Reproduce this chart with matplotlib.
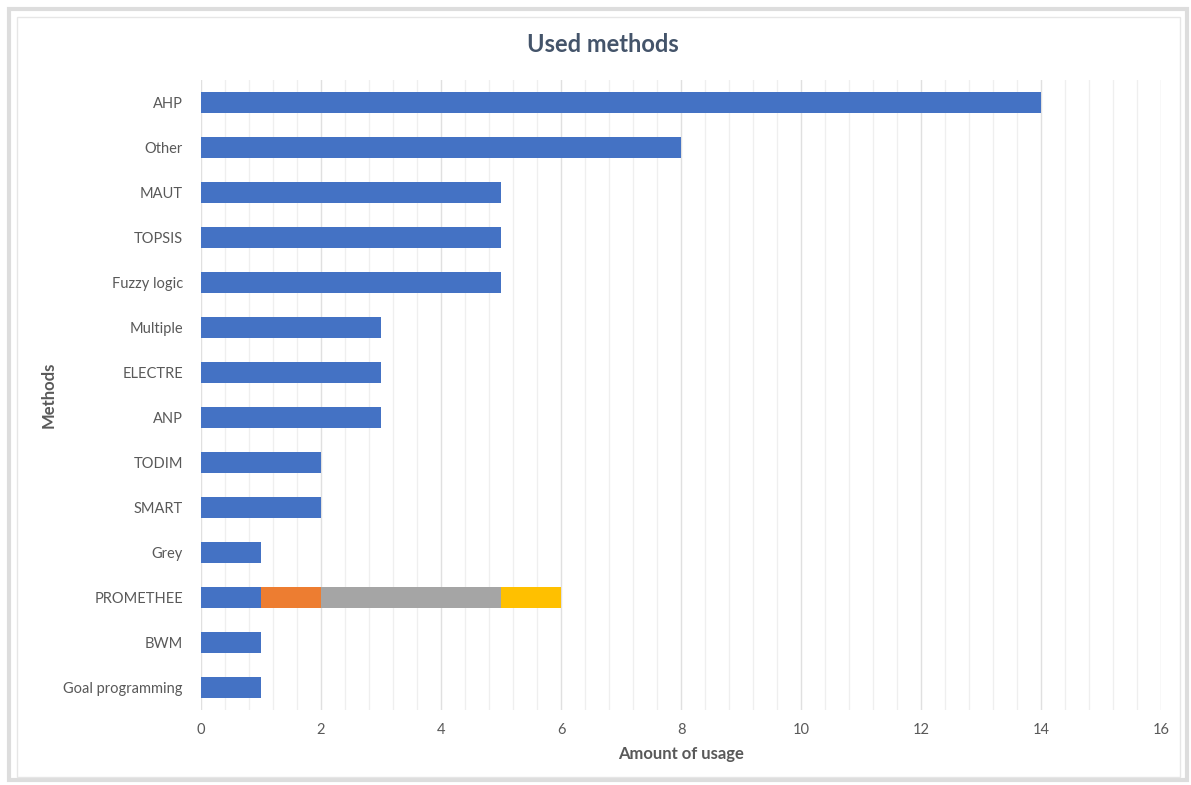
import matplotlib.pyplot as plt
from matplotlib.patches import Rectangle
from matplotlib.ticker import MultipleLocator

methods = ["AHP", "Other", "MAUT", "TOPSIS", "Fuzzy logic", "Multiple", "ELECTRE",
           "ANP", "TODIM", "SMART", "Grey", "PROMETHEE", "BWM", "Goal programming"]
series_1 = [14, 8, 5, 5, 5, 3, 3, 3, 2, 2, 1, 1, 1, 1]
series_2 = [0, 0, 0, 0, 0, 0, 0, 0, 0, 0, 0, 1, 0, 0]
series_3 = [0, 0, 0, 0, 0, 0, 0, 0, 0, 0, 0, 3, 0, 0]
series_4 = [0, 0, 0, 0, 0, 0, 0, 0, 0, 0, 0, 1, 0, 0]
colors = ["#4472C4", "#ED7D31", "#A5A5A5", "#FFC000"]

plt.rcParams["font.family"] = ["Lato", "DejaVu Sans"]
text_col = "#595959"

fig = plt.figure(figsize=(11.91, 7.85), dpi=100)
ax = fig.add_axes([201 / 1191, 1 - 710 / 785, 960 / 1191, 630 / 785])

y = list(range(len(methods)))
left = [0] * len(methods)
for vals, c in zip([series_1, series_2, series_3, series_4], colors):
    ax.barh(y, vals, left=left, height=0.45, color=c, zorder=3)
    left = [a + b for a, b in zip(left, vals)]

ax.set_xlim(0, 16)
ax.set_ylim(len(methods) - 0.5, -0.5)
ax.set_yticks(y)
ax.set_yticklabels(methods)
ax.xaxis.set_major_locator(MultipleLocator(2))
ax.xaxis.set_minor_locator(MultipleLocator(0.4))
ax.grid(axis="x", which="major", color="#E0E0E0", lw=1.0, zorder=0)
ax.grid(axis="x", which="minor", color="#EFEFEF", lw=0.9, zorder=0)
ax.tick_params(axis="both", which="both", length=0, colors=text_col, labelsize=10.5)
ax.tick_params(axis="x", pad=9)
ax.tick_params(axis="y", pad=13)
for s in ax.spines.values():
    s.set_visible(False)

ax.set_xlabel("Amount of usage", fontsize=12, fontweight="bold", color=text_col, labelpad=7)
ax.set_ylabel("Methods", fontsize=12, fontweight="bold", color=text_col, labelpad=5)
fig.text(603 / 1191, 1 - 45 / 785, "Used methods", ha="center", va="center",
         fontsize=17, fontweight="bold", color="#44546A")

# frame around the chart
fig.patches.append(Rectangle((9 / 1191, 5 / 785), 1178 / 1191, 771 / 785,
                             transform=fig.transFigure, fill=False,
                             edgecolor="#DDDDDD", lw=3))
fig.patches.append(Rectangle((17 / 1191, 8 / 785), 1163 / 1191, 760 / 785,
                             transform=fig.transFigure, fill=False,
                             edgecolor="#E6E6E6", lw=1))

fig.savefig("out.png", dpi=100)
